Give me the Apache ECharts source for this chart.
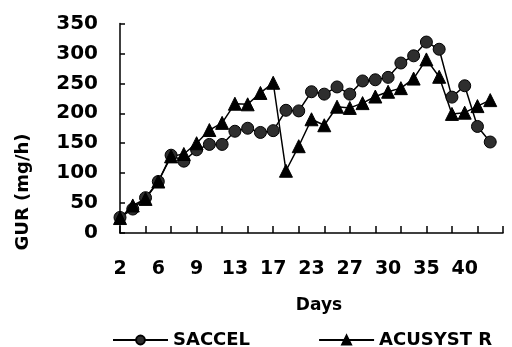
<!DOCTYPE html>
<html>
<head>
<meta charset="utf-8">
<script src="https://cdn.jsdelivr.net/npm/echarts@6/dist/echarts.min.js"></script>
<style>html,body{margin:0;padding:0;background:#fff}#c{width:512px;height:347px}</style>
</head>
<body>
<div id="c"></div>
<script>
var days = ['2','3','5','6','7','8','9','10','12','13','14','16','17','19','21','23','24','26','27','28','29','30','31','33','35','36','38','40','41','42',''];
var saccel = [26, 40, 59, 86, 130, 120, 139, 148, 148, 170, 175, 168, 171, 205, 204, 236, 232, 244, 232, 254, 256, 260, 284, 296, 319, 307, 227, 246, 178, 152];
var acusyst = [25, 46, 57, 86, 128, 132, 150, 172, 184, 216, 215, 234, 251, 104, 145, 190, 180, 211, 209, 217, 228, 236, 242, 258, 290, 261, 199, 201, 212, 222];
var yTicks = [0, 50, 100, 150, 200, 250, 300, 350];

var FONT = 'DejaVu Sans';
var chart = echarts.init(document.getElementById('c'), null, {renderer: 'canvas'});
chart.setOption({
  animation: false,
  backgroundColor: '#fff',
  grid: {left: 120, right: 9, top: 23.5, bottom: 114, containLabel: false},
  xAxis: {
    type: 'category',
    data: days,
    boundaryGap: false,
    axisLine: {lineStyle: {color: '#000', width: 1.5}},
    axisTick: {inside: true, length: 7, interval: 1, lineStyle: {color: '#000', width: 1.5}},
    axisLabel: {interval: 2, margin: 27, color: '#000', fontFamily: FONT, fontWeight: 'bold', fontSize: 19},
    splitLine: {show: false}
  },
  yAxis: {
    type: 'value',
    min: yTicks[0],
    max: yTicks[yTicks.length - 1],
    interval: 50,
    axisLine: {show: true, lineStyle: {color: '#000', width: 1.5}},
    axisTick: {show: true, inside: true, length: 5, lineStyle: {color: '#000', width: 1.5}},
    axisLabel: {margin: 22, color: '#000', fontFamily: FONT, fontWeight: 'bold', fontSize: 20},
    splitLine: {show: false}
  },
  legend: {
    left: 107,
    top: 326,
    itemWidth: 55,
    itemHeight: 11,
    itemGap: 68,
    textStyle: {color: '#000', fontFamily: FONT, fontWeight: 'bold', fontSize: 18},
    data: ['SACCEL', 'ACUSYST R']
  },
  graphic: [
    {type: 'text', x: 319, y: 306, style: {text: 'Days', fill: '#000', font: 'bold 17px "DejaVu Sans"', align: 'center', verticalAlign: 'middle'}},
    {type: 'text', x: 23, y: 192, rotation: Math.PI / 2, style: {text: 'GUR (mg/h)', fill: '#000', font: 'bold 18px "DejaVu Sans"', align: 'center', verticalAlign: 'middle'}}
  ],
  series: [
    {
      name: 'SACCEL',
      type: 'line',
      data: saccel,
      symbol: 'circle',
      symbolSize: 12,
      showAllSymbol: true,
      lineStyle: {color: '#000', width: 1.5},
      itemStyle: {color: '#2e2e2e', borderColor: '#000', borderWidth: 1}
    },
    {
      name: 'ACUSYST R',
      type: 'line',
      data: acusyst,
      symbol: 'triangle',
      symbolSize: 13,
      showAllSymbol: true,
      lineStyle: {color: '#000', width: 1.5},
      itemStyle: {color: '#000', borderColor: '#000', borderWidth: 1}
    }
  ]
});
</script>
</body>
</html>
